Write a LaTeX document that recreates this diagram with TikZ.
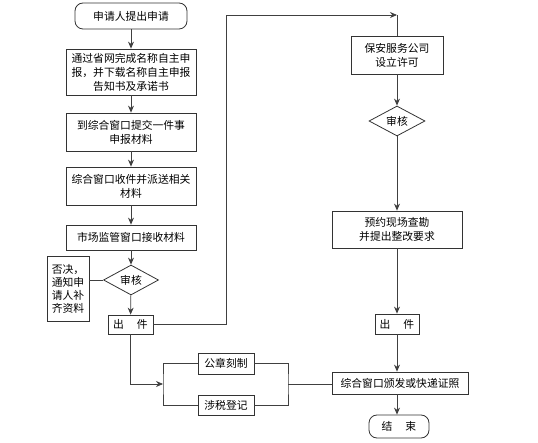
\documentclass[tikz,border=0pt]{standalone}
\usepackage{fontspec}
\newfontfamily\cjk{Noto Sans CJK SC}
\usetikzlibrary{arrows.meta,shapes.geometric}
\begin{document}
\begin{tikzpicture}[x=1pt,y=-1pt,
  every node/.style={font=\cjk\fontsize{10.8}{14}\selectfont, text=black, inner sep=0pt},
  box/.style={draw=black!80, line width=0.8pt, rectangle, align=center},
  term/.style={draw=black!80, line width=0.8pt, rectangle, rounded corners=8pt, align=center},
  dia/.style={draw=black!80, line width=0.8pt, diamond, aspect=1.8},
  ln/.style={draw=black!75, line width=0.8pt},
  arr/.style={ln, -{Stealth[length=7pt,width=6pt]}}]
\useasboundingbox (0,0) rectangle (538,443);
% left column
\node[term, minimum width=112pt, minimum height=26pt] (start) at (131,16) {申请人提出申请};
\node[box, minimum width=130pt, minimum height=46pt] (b1) at (131,72) {通过省网完成名称自主申\\报，并下载名称自主申报\\告知书及承诺书};
\node[box, minimum width=130pt, minimum height=38pt] (b2) at (131,132) {到综合窗口提交一件事\\申报材料};
\node[box, minimum width=130pt, minimum height=38pt] (b3) at (131,186) {综合窗口收件并派送相关\\材料};
\node[box, minimum width=130pt, minimum height=25pt] (b4) at (131,237.5) {市场监管窗口接收材料};
\node[dia, minimum width=55pt, minimum height=30pt] (d1) at (131,280) {审核};
\node[box, minimum width=42pt, minimum height=65pt, font=\cjk\fontsize{10.8}{13}\selectfont] (rej) at (68,288.5) {否决，\\通知申\\请人补\\齐资料};
\node[box, minimum width=45pt, minimum height=19pt] (out1) at (130.5,324.5) {出\hspace{1.2em}件};
% right column
\node[box, minimum width=92pt, minimum height=38pt] (bao) at (397,55) {保安服务公司\\设立许可};
\node[dia, minimum width=56pt, minimum height=30pt] (d2) at (397,121) {审核};
\node[box, minimum width=130pt, minimum height=37pt] (yy) at (397,229.5) {预约现场查勘\\并提出整改要求};
\node[box, minimum width=44pt, minimum height=20pt] (out2) at (397,324) {出\hspace{1.2em}件};
\node[box, minimum width=136pt, minimum height=22pt] (zh) at (400,383) {综合窗口颁发或快递证照};
\node[term, minimum width=60pt, minimum height=23pt] (end) at (399,426.5) {结\hspace{1.2em}束};
% middle
\node[box, minimum width=56pt, minimum height=21pt] (gz) at (226,363.5) {公章刻制};
\node[box, minimum width=56pt, minimum height=20pt] (ss) at (226,405) {涉税登记};
\coordinate (ul) at (226,15);
\coordinate (ur) at (397,15);
\coordinate (lb) at (163,384);
\coordinate (rb) at (288,384);
% connectors
\draw[arr] (start) -- (b1);
\draw[arr] (b1) -- (b2);
\draw[arr] (b2) -- (b3);
\draw[arr] (b3) -- (b4);
\draw[arr] (b4) -- (d1);
\draw[arr] (d1) -- (out1);
\draw[ln] (rej.east |- d1) -- (d1.west);
\draw[arr] (out1.east) -| (ul) -- (ur);
\draw[ln] (ur) -- (bao.north);
\draw[arr] (bao) -- (d2);
\draw[arr] (d2) -- (yy);
\draw[arr] (yy) -- (out2);
\draw[arr] (out2.south) -- (out2.south |- zh.north);
\draw[arr] (zh.south -| out2) -- (out2 |- end.north);
\draw[arr] (out1.south) |- (lb);
\draw[ln] (gz.west) -| (lb) |- (ss.west);
\draw[ln] (gz.east) -| (rb) |- (ss.east);
\draw[ln] (rb) -- (rb -| zh.west);
\end{tikzpicture}
\end{document}
